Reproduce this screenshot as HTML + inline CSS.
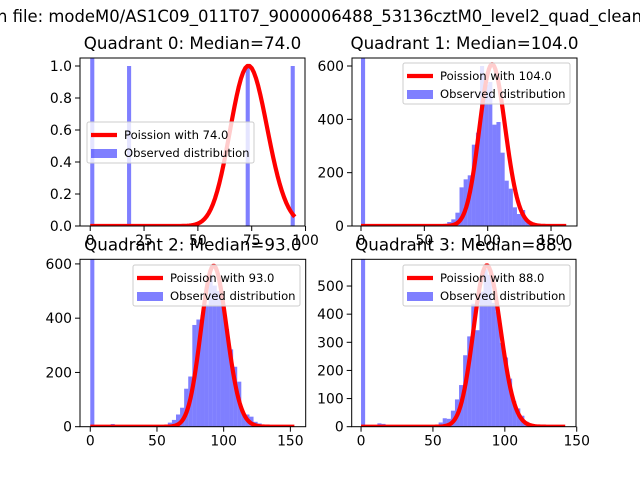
<!DOCTYPE html>
<html><head><meta charset="utf-8"><style>
html,body{margin:0;padding:0;background:#fff;}
svg{display:block;font-family:"DejaVu Sans","Liberation Sans",sans-serif;}
</style></head><body>
<svg id="fig" width="640" height="480" viewBox="0 0 640 480">
<rect width="640" height="480" fill="#fff"/>
<text x="-3" y="22" font-size="16.7" fill="#000" textLength="645" lengthAdjust="spacingAndGlyphs">n file: modeM0/AS1C09_011T07_9000006488_53136cztM0_level2_quad_clean</text>
</svg>
<script>
// ---- data ----
const medians = [74, 104, 93, 88];
const binWidths = [1.9, 3.24, 3.06, 2.84];
const curveMax = [95, 162, 153, 142];
const curvePeaks = [1.0, 606, 593, 573];
const q0Counts = [2,0,0,0,0,0,0,0,0,1,0,0,0,0,0,0,0,0,0,0,0,0,0,0,0,0,0,0,0,0,0,0,0,0,0,0,0,0,1,0,0,0,0,0,0,0,0,0,0,1];
const q1Counts = [2000,0,0,0,6,6,3,0,0,0,0,0,0,0,0,0,0,0,0,3,8,15,25,50,145,175,190,305,350,600,530,540,380,390,275,170,140,70,45,60,20,12,8,3,0,0,0,0,0,0];
const q2Counts = [2000,0,0,0,0,10,0,0,0,0,0,0,0,0,0,0,0,0,0,15,25,45,70,140,185,375,395,410,450,560,520,500,470,360,285,221,166,49,45,37,18,12,3,0,0,0,0,0,0,0];
const q3Counts = [2000,0,0,0,12,10,6,0,0,0,0,0,0,0,0,0,0,0,0,15,30,28,57,97,148,254,321,437,343,480,560,540,440,408,298,246,171,92,65,39,18,9,0,0,0,0,0,0,0,0];
const xTicks0 = [0,25,50,75,100];
const xTicks = [0,50,100,150];
const yTicks0 = [0,0.2,0.4,0.6,0.8,1.0];
const yTicks12 = [0,200,400,600];
const yTicks3 = [0,100,200,300,400,500];

const counts = [q0Counts,q1Counts,q2Counts,q3Counts];
const panels = [
 {L:80,R:305,T:58,B:226,xl:[-4.75,99.75],yl:[0,1.05],xt:xTicks0,yt:yTicks0,fmt:v=>v.toFixed(1),leg:{x:87,y:122}},
 {L:352,R:577,T:58,B:226,xl:[-7.1,170.5],yl:[0,630],xt:xTicks,yt:yTicks12,fmt:v=>String(v),leg:{x:403,y:63}},
 {L:80,R:305.7,T:259.3,B:426.7,xl:[-7.7,161.5],yl:[0,617],xt:xTicks,yt:yTicks12,fmt:v=>String(v),leg:{x:133,y:265}},
 {L:351.7,R:576,T:259.3,B:426.7,xl:[-6.5,149.5],yl:[0,595],xt:xTicks,yt:yTicks3,fmt:v=>String(v),leg:{x:403,y:265}}
];
const NS='http://www.w3.org/2000/svg';
const fig=document.getElementById('fig');
function mk(tag,attrs,parent){const e=document.createElementNS(NS,tag);for(const k in attrs)e.setAttribute(k,attrs[k]);(parent||fig).appendChild(e);return e;}
function lgamma(n){let s=0;for(let i=2;i<=n;i++)s+=Math.log(i);return s;}
function pmf(k,l){return Math.exp(k*Math.log(l)-l-lgamma(k));}

panels.forEach((p,q)=>{
 const sx=v=>p.L+(v-p.xl[0])/(p.xl[1]-p.xl[0])*(p.R-p.L);
 const sy=v=>p.B-(v-p.yl[0])/(p.yl[1]-p.yl[0])*(p.B-p.T);
 const g=mk('g',{});
 
 
 const cid='clip'+q;
 const cp=mk('clipPath',{id:cid},g);mk('rect',{x:p.L,y:p.T,width:p.R-p.L,height:p.B-p.T},cp);
 const bars=mk('g',{'clip-path':'url(#'+cid+')'},g);
 
 
 const bw=binWidths[q];
 counts[q].forEach((c,i)=>{
  if(c<=0)return;
  const x0=sx(i*bw),x1=sx((i+1)*bw),y=sy(c);
  const r=mk('rect',{x:x0,y:Math.max(y,p.T-2),width:x1-x0,height:p.B-Math.max(y,p.T-2),fill:'#0000ff','fill-opacity':0.5},bars);
  
  
 });
 const lam=medians[q];
 const pk=pmf(Math.floor(lam),lam);
 let d='';
 for(let k=0;k<=curveMax[q];k++){const v=curvePeaks[q]*pmf(k,lam)/pk;d+=(k?'L':'M')+sx(k).toFixed(2)+','+sy(v).toFixed(2);}
 const path=mk('path',{d:d,fill:'none',stroke:'#ff0000','stroke-width':4.2,'stroke-linejoin':'round','clip-path':'url(#'+cid+')'},g);
 
 
 const fr=mk('rect',{x:p.L,y:p.T,width:p.R-p.L,height:p.B-p.T,fill:'none',stroke:'#000','stroke-width':1},g);
 
 
 p.xt.forEach(t=>{
  const x=sx(t);
  mk('line',{x1:x,x2:x,y1:p.B,y2:p.B+5,stroke:'#000','stroke-width':1},g);
  const tx=mk('text',{x:x,y:p.B+19,'font-size':13.9,'text-anchor':'middle',fill:'#000'},g);
  tx.textContent=String(t);
  
  
 });
 p.yt.forEach(t=>{
  const y=sy(t);
  mk('line',{x1:p.L-5,x2:p.L,y1:y,y2:y,stroke:'#000','stroke-width':1},g);
  const tx=mk('text',{x:p.L-8,y:y+5,'font-size':13.9,'text-anchor':'end',fill:'#000'},g);
  tx.textContent=p.fmt(t);
  
  
 });
 const ti=mk('text',{x:(p.L+p.R)/2,y:p.T-9,'font-size':16.7,'text-anchor':'middle',fill:'#000'},g);
 ti.textContent='Quadrant '+q+': Median='+lam.toFixed(1);
 
 
 const lg=mk('g',{},g);
 
 
 const lx=p.leg.x,ly=p.leg.y;
 mk('rect',{x:lx,y:ly,width:167,height:41,rx:2,fill:'#fff','fill-opacity':0.8,stroke:'#cccccc','stroke-width':1},lg);
 mk('line',{x1:lx+4,x2:lx+30,y1:ly+13,y2:ly+13,stroke:'#ff0000','stroke-width':4.2},lg);
 const t1=mk('text',{x:lx+37,y:ly+17,'font-size':11.6,fill:'#000'},lg);
 t1.textContent='Poission with '+lam.toFixed(1);
 
 
 mk('rect',{x:lx+4,y:ly+27,width:26,height:9,fill:'#0000ff','fill-opacity':0.5},lg);
 const t2=mk('text',{x:lx+37,y:ly+35,'font-size':11.6,fill:'#000'},lg);
 t2.textContent='Observed distribution';
 
 
});
</script>
</body></html>
